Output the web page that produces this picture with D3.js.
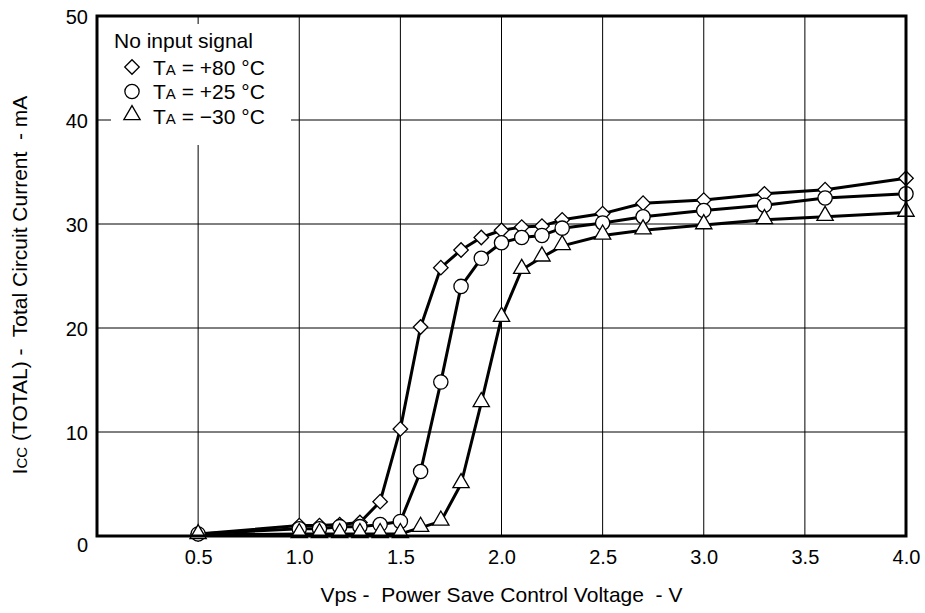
<!DOCTYPE html>
<html lang="en">
<head>
    <meta charset="UTF-8">
    <title>Icc vs Vps</title>
    <style>
        body { margin: 0; padding: 0; background: #fff; }
        svg { display: block; font-family: "Liberation Sans", Arial, sans-serif; }
    </style>
</head>
<body>
    <svg width="925" height="613"></svg>
    <script src="https://d3js.org/d3.v7.min.js"></script>
    <script>
        // Vps values (V)
        const vps = [0.5, 1.0, 1.1, 1.2, 1.3, 1.4, 1.5, 1.6, 1.7, 1.8, 1.9, 2.0, 2.1, 2.2, 2.3, 2.5, 2.7, 3.0, 3.3, 3.6, 4.0];

        // Icc (mA) per temperature
        const icc80 = [0.2, 1.0, 1.0, 1.1, 1.3, 3.3, 10.3, 20.1, 25.8, 27.5, 28.7, 29.4, 29.7, 29.8, 30.4, 31.0, 32.0, 32.3, 32.9, 33.3, 34.4];
        const icc25 = [0.2, 0.7, 0.7, 0.9, 0.9, 1.1, 1.4, 6.2, 14.8, 24.0, 26.7, 28.2, 28.7, 28.9, 29.6, 30.1, 30.7, 31.3, 31.8, 32.5, 32.9];
        const iccM30 = [0.1, 0.2, 0.2, 0.2, 0.2, 0.2, 0.2, 0.8, 1.4, 5.0, 12.8, 21.0, 25.6, 26.8, 27.9, 28.9, 29.4, 29.9, 30.4, 30.7, 31.1];

        const xTicks = [0.5, 1.0, 1.5, 2.0, 2.5, 3.0, 3.5, 4.0];
        const yTicks = [0, 10, 20, 30, 40, 50];

        const legendTitle = "No input signal";
        const legendLabels = ["+80 °C", "+25 °C", "\u221230 °C"];
        const markerTypes = ["diamond", "circle", "triangle"];

        const svg = d3.select("svg");
        const pLeft = 97, pRight = 906, pTop = 16, pBottom = 536;
        const fontFam = "Liberation Sans, Arial, sans-serif";

        const x = d3.scaleLinear().domain([0, 4]).range([pLeft, pRight]);
        const y = d3.scaleLinear().domain([0, 50]).range([pBottom, pTop]);

        // grid
        svg.append("g").selectAll("line")
            .data(xTicks.filter(d => d > 0 && d < 4))
            .enter().append("line")
            .attr("x1", d => x(d)).attr("x2", d => x(d))
            .attr("y1", pTop).attr("y2", pBottom)
            .attr("stroke", "#000").attr("stroke-width", 1);
        svg.append("g").selectAll("line")
            .data(yTicks.filter(d => d > 0 && d < 50))
            .enter().append("line")
            .attr("x1", pLeft).attr("x2", pRight)
            .attr("y1", d => y(d)).attr("y2", d => y(d))
            .attr("stroke", "#000").attr("stroke-width", 1);

        // legend background hides grid
        svg.append("rect")
            .attr("x", 111).attr("y", 24)
            .attr("width", 180).attr("height", 121)
            .attr("fill", "#fff");

        // axes tick labels
        const xAxis = d3.axisBottom(x).tickValues(xTicks).tickFormat(d3.format(".1f")).tickSize(0).tickPadding(14);
        svg.append("g").attr("transform", `translate(0,${pBottom})`).call(xAxis)
            .call(g => g.select(".domain").remove())
            .selectAll("text").attr("font-size", 20).attr("font-family", fontFam).attr("fill", "#000");

        const yAxis = d3.axisLeft(y).tickValues(yTicks).tickSize(0).tickPadding(9);
        svg.append("g").attr("transform", `translate(${pLeft},0)`).call(yAxis)
            .call(g => g.select(".domain").remove())
            .selectAll("text").attr("font-size", 20).attr("font-family", fontFam).attr("fill", "#000")
            .attr("dy", d => d === 0 ? "0.78em" : "0.35em");

        // axis titles
        svg.append("text")
            .attr("x", (pLeft + pRight) / 2).attr("y", 602)
            .attr("text-anchor", "middle").attr("font-size", 21)
            .attr("xml:space", "preserve")
            .text("Vps -  Power Save Control Voltage  - V");

        const yt = svg.append("text")
            .attr("transform", "translate(27,285) rotate(-90)")
            .attr("text-anchor", "middle").attr("font-size", 21)
            .attr("xml:space", "preserve");
        yt.append("tspan").text("I");
        yt.append("tspan").attr("font-size", 15).text("CC");
        yt.append("tspan").text(" (TOTAL) -  Total Circuit Current  - mA");

        // series
        const series = [icc80, icc25, iccM30].map((vals, i) => ({
            type: markerTypes[i],
            points: vps.map((v, j) => [v, vals[j]])
        }));

        const line = d3.line().x(d => x(d[0])).y(d => y(d[1]));
        const symbolFor = t => t === "diamond" ? d3.symbol().type(d3.symbolSquare).size(105)
            : t === "circle" ? d3.symbol().type(d3.symbolCircle).size(160)
            : d3.symbol().type(d3.symbolTriangle).size(115);
        const markerTf = (t, cx, cy) => `translate(${cx},${cy - (t === "triangle" ? 1 : 0)})` + (t === "diamond" ? " rotate(45)" : "");

        series.forEach(s => {
            svg.append("path").datum(s.points)
                .attr("d", line).attr("fill", "none")
                .attr("stroke", "#000").attr("stroke-width", 3).attr("stroke-linejoin", "round");
        });
        series.forEach(s => {
            svg.append("g").selectAll("path")
                .data(s.points).enter().append("path")
                .attr("d", symbolFor(s.type)())
                .attr("transform", d => markerTf(s.type, x(d[0]), y(d[1])))
                .attr("fill", "#fff").attr("stroke", "#000").attr("stroke-width", 1.3);
        });

        // frame
        svg.append("rect")
            .attr("x", pLeft).attr("y", pTop)
            .attr("width", pRight - pLeft).attr("height", pBottom - pTop)
            .attr("fill", "none").attr("stroke", "#000").attr("stroke-width", 3);

        // legend
        svg.append("text").attr("x", 114).attr("y", 48).attr("font-size", 21).text(legendTitle);
        legendLabels.forEach((lab, i) => {
            const ly = 67 + i * 24.5;
            svg.append("path")
                .attr("d", symbolFor(markerTypes[i])())
                .attr("transform", markerTf(markerTypes[i], 132, ly))
                .attr("fill", "#fff").attr("stroke", "#000").attr("stroke-width", 1.3);
            const t = svg.append("text").attr("x", 153).attr("y", ly + 7.5).attr("font-size", 21);
            t.append("tspan").text("T");
            t.append("tspan").attr("font-size", 15).text("A");
            t.append("tspan").text(" = " + lab);
        });
    </script>
</body>
</html>
